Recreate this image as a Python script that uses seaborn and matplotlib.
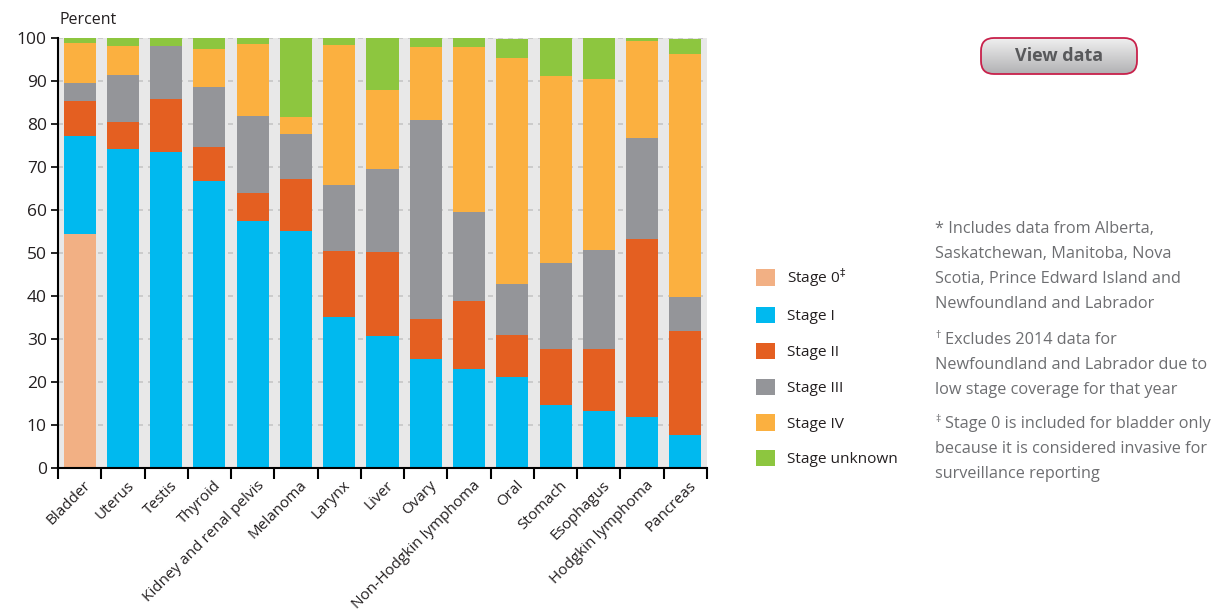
import matplotlib.pyplot as plt
import numpy as np
import pandas as pd
import seaborn as sns
from matplotlib.colors import LinearSegmentedColormap
from matplotlib.patches import FancyBboxPatch, Patch
from matplotlib.transforms import ScaledTranslation

sns.set_theme(style='white')
plt.rcParams['font.family'] = ['Open Sans', 'DejaVu Sans']

# percent of cases by stage at diagnosis
sites = ['Bladder', 'Uterus', 'Testis', 'Thyroid', 'Kidney and renal pelvis',
         'Melanoma', 'Larynx', 'Liver', 'Ovary', 'Non-Hodgkin lymphoma',
         'Oral', 'Stomach', 'Esophagus', 'Hodgkin lymphoma', 'Pancreas']
stage_0 = [54.5, 0, 0, 0, 0, 0, 0, 0, 0, 0, 0, 0, 0, 0, 0]
stage_1 = [22.8, 74.2, 73.6, 66.8, 57.5, 55.2, 35.2, 30.8, 25.3, 23.1,
           21.2, 14.7, 13.3, 11.9, 7.7]
stage_2 = [8.1, 6.3, 12.2, 7.9, 6.5, 12.0, 15.3, 19.5, 9.4, 15.8,
           9.8, 12.9, 14.3, 41.4, 24.1]
stage_3 = [4.1, 10.9, 12.3, 13.9, 17.9, 10.5, 15.3, 19.3, 46.3, 20.7,
           11.8, 20.1, 23.2, 23.5, 7.9]
stage_4 = [9.3, 6.8, 0, 8.8, 16.8, 3.9, 32.6, 18.4, 16.8, 38.3,
           52.6, 43.5, 39.7, 22.5, 56.6]
stage_unknown = [1.2, 1.8, 1.9, 2.6, 1.3, 18.4, 1.6, 12.0, 2.2, 2.1,
                 4.4, 8.8, 9.5, 0.7, 3.5]

stages = ['Stage 0', 'Stage I', 'Stage II', 'Stage III', 'Stage IV',
          'Stage unknown']
legend_labels = [r'Stage 0$^{\ddag}$', 'Stage I', 'Stage II', 'Stage III',
                 'Stage IV', 'Stage unknown']
colors = ['#f2b084', '#00b9ef', '#e45f21', '#949599', '#fbb040', '#8dc63f']

notes = [
    ('', ['* Includes data from Alberta,',
          'Saskatchewan, Manitoba, Nova',
          'Scotia, Prince Edward Island and',
          'Newfoundland and Labrador']),
    ('\u2020', ['Excludes 2014 data for',
                'Newfoundland and Labrador due to',
                'low stage coverage for that year']),
    ('\u2021', ['Stage 0 is included for bladder only',
                'because it is considered invasive for',
                'surveillance reporting']),
]

df = pd.DataFrame({'site': sites, 'Stage 0': stage_0, 'Stage I': stage_1,
                   'Stage II': stage_2, 'Stage III': stage_3,
                   'Stage IV': stage_4, 'Stage unknown': stage_unknown})
cum = df[stages].cumsum(axis=1)

W, H = 1222, 614
fig = plt.figure(figsize=(W / 100, H / 100), dpi=100)
ax = fig.add_axes([58 / W, (H - 468) / H, 649 / W, 430 / H])
ax.set_facecolor('#e8e8e8')

# stacked bars: tallest cumulative first, then cover with lower stages
for stage, color in reversed(list(zip(stages, colors))):
    sns.barplot(x=df['site'], y=cum[stage], color=color, saturation=1,
                width=0.74, errorbar=None, linewidth=0, edgecolor='none',
                ax=ax)

ax.set_xlim(-0.5, len(sites) - 0.5)
ax.set_ylim(0, 100)
ax.set_yticks(range(0, 101, 10))
ax.set_xlabel('')
ax.set_ylabel('')
ax.set_axisbelow(True)
ax.yaxis.grid(True, linestyle=(0, (3, 3)), color='#c6c6c6', linewidth=1.2)
ax.xaxis.grid(False)

for side in ['top', 'right']:
    ax.spines[side].set_visible(False)
for side in ['left', 'bottom']:
    ax.spines[side].set_color('black')
    ax.spines[side].set_linewidth(1.5)

ax.tick_params(axis='y', direction='out', length=5, width=1.2, color='black',
               labelsize=12.5, labelcolor='#231f20', pad=3, left=True)
ax.set_xticks(np.arange(-0.5, len(sites), 1), minor=True)
ax.tick_params(axis='x', which='minor', direction='out', length=8,
               width=1.5, color='black', bottom=True)
ax.tick_params(axis='x', which='major', length=0, pad=11)
ax.set_xticks(range(len(sites)))
ax.set_xticklabels(sites, rotation=45, ha='right', va='center',
                   rotation_mode='anchor', fontsize=11, color='#231f20')
shift = ScaledTranslation(9 / 100, 0, fig.dpi_scale_trans)
for lab in ax.get_xticklabels():
    lab.set_transform(lab.get_transform() + shift)

fig.text(60 / W, (H - 20) / H, 'Percent', fontsize=11.5, va='center',
         color='#231f20')

handles = [Patch(facecolor=c, edgecolor='none') for c in colors]
fig.legend(handles, legend_labels, loc='upper left',
           bbox_to_anchor=(756 / W, (H - 266) / H), frameon=False,
           fontsize=11.1, labelspacing=1.2, handlelength=1.23,
           handleheight=1.23, handletextpad=0.8, borderpad=0,
           borderaxespad=0, labelcolor='#231f20')

# footnotes, one text per line
tops = [229, 340, 424]
for (mark, lines), top in zip(notes, tops):
    x0 = 935
    if mark:
        fig.text(x0 / W, (H - top + 5) / H, mark, fontsize=7.5,
                 color='#6d6e71', va='center')
        x0 = 945
    for i, line in enumerate(lines):
        xl = x0 if i == 0 else 935
        fig.text(xl / W, (H - top - i * 25) / H, line, fontsize=11.7,
                 color='#6d6e71', va='center')

# "View data" button
bx = fig.add_axes([980 / W, (H - 75) / H, 158 / W, 38 / H])
bx.set_xlim(0, 158)
bx.set_ylim(0, 38)
bx.axis('off')
grad = LinearSegmentedColormap.from_list('btn', ['#b0b0b2', '#f1f1f1'])
im = bx.imshow(np.linspace(0, 1, 64)[:, None], extent=(0, 158, 0, 38),
               cmap=grad, origin='lower', aspect='auto')
box = FancyBboxPatch((1, 1), 156, 36, boxstyle='round,pad=0,rounding_size=13',
                     facecolor='none', edgecolor='#c8214b', linewidth=1.3)
bx.add_patch(box)
im.set_clip_path(box)
bx.text(79, 19, 'View data', ha='center', va='center', fontsize=13,
        fontweight='bold', color='#58595b')

plt.savefig('out.png', dpi=100)
